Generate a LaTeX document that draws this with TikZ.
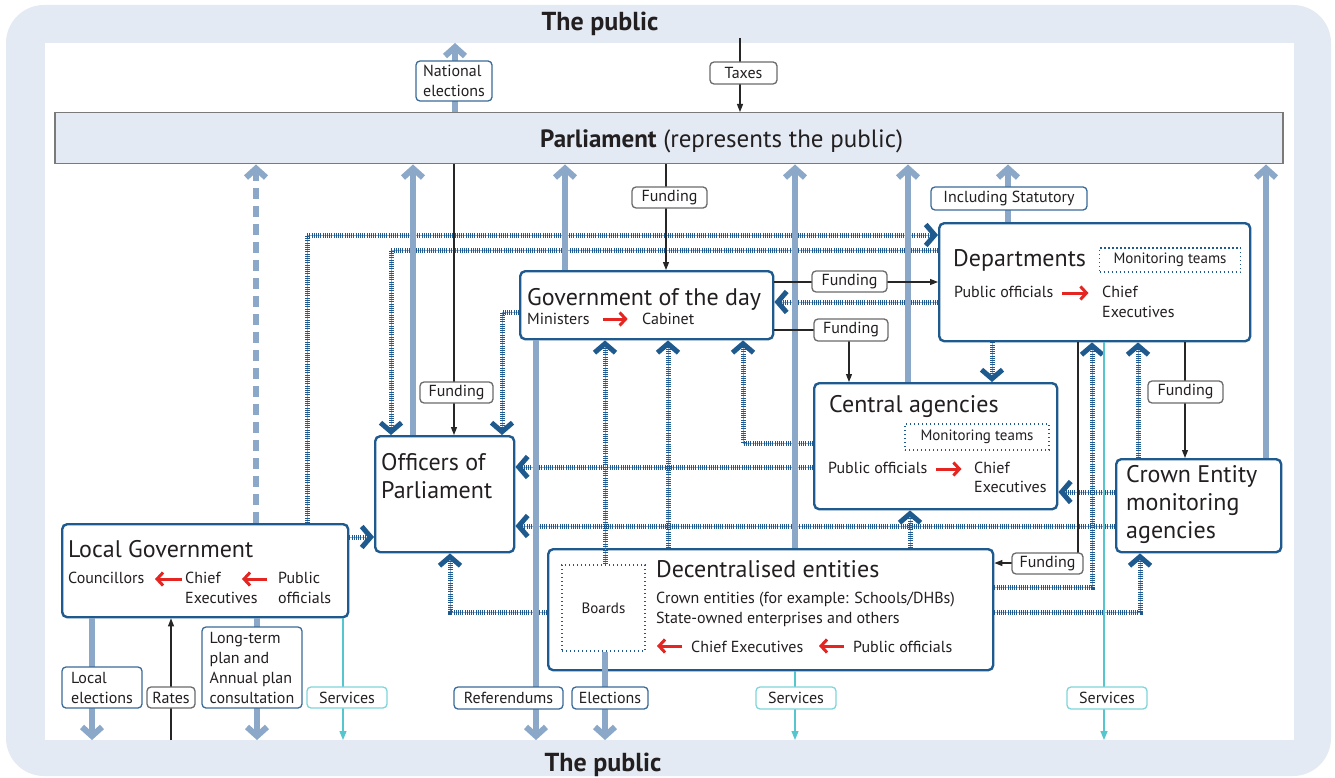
\documentclass[tikz,border=0pt]{standalone}
\usepackage{fontspec}
\setmainfont{PT Sans}
\usetikzlibrary{arrows.meta}

\definecolor{bgblue}{HTML}{E3EAF3}
\definecolor{thickblue}{HTML}{8CA8C8}
\definecolor{navy}{HTML}{1F5A8F}
\definecolor{hatchlight}{HTML}{93AECD}
\definecolor{inkc}{HTML}{231F20}
\definecolor{cyanline}{HTML}{55C6CE}
\definecolor{cyanbox}{HTML}{7FD5DB}
\definecolor{redarrow}{HTML}{E42521}
\definecolor{lblgray}{HTML}{6B6B6B}
\definecolor{lblnavy}{HTML}{3A6A98}
\definecolor{parlgray}{HTML}{7A7A7A}

\newcommand\fntPub{\fontsize{26}{30}\selectfont\bfseries}
\newcommand\fntParl{\fontsize{25}{30}\selectfont}
\newcommand\fntTitle{\fontsize{24}{28}\selectfont}
\newcommand\fntSub{\fontsize{16}{20}\selectfont}
\newcommand\fntLbl{\fontsize{16}{20}\selectfont}
\newcommand\fntMon{\fontsize{15}{18}\selectfont}

\begin{document}
\begin{tikzpicture}[x=1pt, y=-1pt,
  txt/.style={inner sep=0pt, text=inkc},
  ttl/.style={txt, font=\fntTitle, anchor=base west},
  sub/.style={txt, font=\fntSub, anchor=base west},
  mainbox/.style={draw=navy, line width=2.4pt, rounded corners=5pt, fill=white, inner sep=0pt, anchor=north west},
  monbox/.style={draw=navy, line width=1.4pt, dash pattern=on 1.4pt off 2.6pt, inner sep=0pt, text=inkc, font=\fntMon},
  lbl/.style={draw=#1, rounded corners=4pt, line width=1.3pt, fill=white, inner sep=0pt, text=inkc, font=\fntLbl, align=left},
  thickarr/.style={draw=thickblue, line width=6pt, -{Straight Barb[length=9pt, width=20pt]}},
  dasharr/.style={thickarr, dash pattern=on 11pt off 7pt},
  hatch/.style={draw=navy, line width=5pt, dash pattern=on 1pt off 1.2pt,
     preaction={draw=hatchlight, solid},
     -{Straight Barb[length=9pt, width=21pt]}},
  thinarr/.style={draw=black!85, line width=1.1pt, -{Triangle[length=8pt, width=6pt]}},
  cyanarr/.style={draw=cyanline, line width=1.3pt, -{Triangle[length=9pt, width=7pt]}},
  redarr/.style={draw=redarrow, line width=3pt, -{Straight Barb[length=6pt, width=13pt]}},
]
% frame
\useasboundingbox (0,0) rectangle (1335,778);
\fill[bgblue, rounded corners=38pt] (6,5) rectangle (1331,776);
\fill[white] (45,43) rectangle (1294,740);

\node[txt, font=\fntPub, anchor=base] (pubtop) at (600,31) {The public};
\node[txt, font=\fntPub, anchor=base] (pubbot) at (603,771) {The public};

% free ends on the public side
\coordinate (natE) at (455,43);
\coordinate (taxS) at (740,38);
\coordinate (locE) at (92,740);
\coordinate (rateS) at (171,740);
\coordinate (planE) at (257,740);
\coordinate (svcA) at (343,740);
\coordinate (refE) at (536,740);
\coordinate (elecE) at (605,740);
\coordinate (svcB) at (795,740);
\coordinate (svcC) at (1104,740);

% Parliament
\node[draw=parlgray, line width=1.5pt, fill=bgblue, inner sep=0pt, anchor=north west,
      minimum width=1228pt, minimum height=51pt] (parl) at (54,112) {};
\node[txt, font=\fntParl, anchor=base west] (parltext) at (540,148) {\textbf{Parliament} (represents the public)};

% organisations
\node[mainbox, minimum width=253pt, minimum height=68pt] (gov) at (519,270) {};
\node[mainbox, minimum width=311pt, minimum height=118pt] (dep) at (938,222) {};
\node[mainbox, minimum width=243pt, minimum height=126pt] (cen) at (813,382) {};
\node[mainbox, minimum width=139pt, minimum height=116pt] (off) at (374,435) {};
\node[mainbox, minimum width=165pt, minimum height=93pt] (crown) at (1115,458) {};
\node[mainbox, minimum width=286pt, minimum height=93pt] (lg) at (61,523) {};
\node[mainbox, minimum width=445pt, minimum height=121pt] (dec) at (547,548) {};
\node[monbox, minimum width=83pt, minimum height=86pt] (boards) at (603.5,608) {Boards};

% monitoring relationships
\draw[hatch] (lg.north -| 307,0) |- (dep.west |- 0,235);
\draw[hatch] (dep.west |- 0,250) -| (off.north -| 391,0);
\draw[hatch] (gov.west |- 0,312) -| (off.north -| 502,0);
\draw[hatch] (dep.west |- 0,302) -- (gov.east |- 0,302);
\draw[hatch] (dep.south -| 992,0) -- (cen.north -| 992,0);
\draw[hatch] (cen.west |- 0,443) -| (gov.south -| 743,0);
\draw[hatch] (cen.west |- 0,467) -- (off.east |- 0,467);
\draw[hatch] (crown.west |- 0,492) -- (cen.east |- 0,492);
\draw[hatch] (crown.west |- 0,526) -- (off.east |- 0,526);
\draw[hatch] (boards.north -| 605,0) -- (gov.south -| 605,0);
\draw[hatch] (dec.north -| 668,0) -- (gov.south -| 668,0);
\draw[hatch] (dec.west |- 0,612) -| (off.south -| 450,0);
\draw[hatch] (dec.north -| 910,0) -- (cen.south -| 910,0);
\draw[hatch] (dec.east |- 0,587) -| (dep.south -| 1092,0);
\draw[hatch] (dec.east |- 0,612) -| (crown.south -| 1140,0);
\draw[hatch] (crown.north -| 1138,0) -- (dep.south -| 1138,0);
\draw[hatch] (lg.east |- 0,537) -- (off.west |- 0,537);

% accountability to Parliament and the public
\draw[thickarr] (parl.north -| 455,0) -- (natE);
\draw[dasharr] (lg.north -| 256,0) -- (parl.south -| 256,0);
\draw[thickarr] (off.north -| 413,0) -- (parl.south -| 413,0);
\draw[thickarr] (gov.north -| 565,0) -- (parl.south -| 565,0);
\draw[thickarr] (dec.north -| 795,0) -- (parl.south -| 795,0);
\draw[thickarr] (cen.north -| 908,0) -- (parl.south -| 908,0);
\draw[thickarr] (dep.north -| 1008,0) -- (parl.south -| 1008,0);
\draw[thickarr] (crown.north -| 1266,0) -- (parl.south -| 1266,0);
\draw[thickarr] (lg.south -| 92,0) -- (locE);
\draw[thickarr] (lg.south -| 257,0) -- (planE);
\draw[thickarr] (gov.south -| 536,0) -- (refE);
\draw[thickarr] (boards.south -| 605,0) -- (elecE);

% funding
\draw[thinarr] (taxS) -- (parl.north -| 740,0);
\draw[thinarr] (parl.south -| 454,0) -- (off.north -| 454,0);
\draw[thinarr] (parl.south -| 666,0) -- (gov.north -| 666,0);
\draw[thinarr] (gov.east |- 0,282) -- (dep.west |- 0,282);
\draw[thinarr] (gov.east |- 0,330) -| (cen.north -| 849,0);
\draw[thinarr] (dep.south -| 1185,0) -- (crown.north -| 1185,0);
\draw[thinarr] (dep.south -| 1078,0) |- (dec.east |- 0,563);
\draw[thinarr] (rateS) -- (lg.south -| 171,0);

% services
\draw[cyanarr] (lg.south -| 343,0) -- (svcA);
\draw[cyanarr] (dec.south -| 795,0) -- (svcB);
\draw[cyanarr] (dep.south -| 1104,0) -- (svcC);

% Government of the day
\node[ttl] (govT) at (527,305) {Government of the day};
\node[sub] (govMin) at (527,324) {Ministers};
\node[sub] (govCab) at (642,324) {Cabinet};
\draw[redarr] ([shift={(13,-5)}]govMin.base east) -- ++(25,0);

% Departments
\node[ttl] (depT) at (953,266) {Departments};
\node[monbox, minimum width=141pt, minimum height=24pt] (depMon) at (1170,260) {Monitoring teams};
\node[sub] (depPO) at (954,297) {Public officials};
\node[sub] (depC) at (1102,297) {Chief};
\node[sub] (depE) at (1102,317) {Executives};
\draw[redarr] ([shift={(9,-4)}]depPO.base east) -- ++(26,0);

% Central agencies
\node[ttl] (cenT) at (829,412) {Central agencies};
\node[monbox, minimum width=144pt, minimum height=26pt] (cenMon) at (977,437) {Monitoring teams};
\node[sub] (cenPO) at (828,473) {Public officials};
\node[sub] (cenC) at (974,473) {Chief};
\node[sub] (cenE) at (974,492) {Executives};
\draw[redarr] ([shift={(9,-4)}]cenPO.base east) -- ++(25,0);

% Officers of Parliament
\node[ttl] (offA) at (381,470) {Officers of};
\node[ttl] (offB) at (381,498) {Parliament};

% Crown Entity monitoring agencies
\node[ttl] (crA) at (1126,482) {Crown Entity};
\node[ttl] (crB) at (1126,510) {monitoring};
\node[ttl] (crC) at (1126,538) {agencies};

% Local Government
\node[ttl] (lgT) at (68,557) {Local Government};
\node[sub] (lgCo) at (68,583) {Councillors};
\node[sub] (lgC) at (185,583) {Chief};
\node[sub] (lgE) at (185,603) {Executives};
\node[sub] (lgP) at (278,583) {Public};
\node[sub] (lgO) at (278,603) {officials};
\draw[redarr] ([shift={(-3,-4)}]lgC.base west) -- ++(-27,0);
\draw[redarr] ([shift={(-11,-4)}]lgP.base west) -- ++(-25,0);

% Decentralised entities
\node[ttl] (decT) at (656,577) {Decentralised entities};
\node[sub] (decL1) at (656,603) {Crown entities (for example: Schools/DHBs)};
\node[sub] (decL2) at (656,623) {State-owned enterprises and others};
\node[sub] (decCE) at (691,652) {Chief Executives};
\node[sub] (decPO) at (853,652) {Public officials};
\draw[redarr] ([shift={(-9,-6)}]decCE.base west) -- ++(-25,0);
\draw[redarr] ([shift={(-9,-6)}]decPO.base west) -- ++(-25,0);

% connector labels
\node[lbl=lblnavy, minimum width=76pt, minimum height=40pt] (lNat) at (454,81) {National\\elections};
\node[lbl=lblgray, minimum width=67pt, minimum height=22pt] (lTax) at (743.5,73) {Taxes};
\node[lbl=lblgray, minimum width=75pt, minimum height=21pt] (lFund1) at (669.5,197.5) {Funding};
\node[lbl=lblnavy, minimum width=156pt, minimum height=23pt] (lStat) at (1009,198.5) {Including Statutory};
\node[lbl=lblgray, minimum width=75pt, minimum height=21pt] (lFund2) at (849.5,281.5) {Funding};
\node[lbl=lblgray, minimum width=74pt, minimum height=22pt] (lFund3) at (851,330) {Funding};
\node[lbl=lblgray, minimum width=73pt, minimum height=21pt] (lFund4) at (456.5,392.5) {Funding};
\node[lbl=lblgray, minimum width=75pt, minimum height=22pt] (lFund5) at (1185.5,392) {Funding};
\node[lbl=lblgray, minimum width=71pt, minimum height=21pt] (lFund6) at (1047.5,563.5) {Funding};
\node[lbl=lblnavy, minimum width=80pt, minimum height=41pt] (lLoc) at (102,687.5) {Local\\elections};
\node[lbl=lblgray, minimum width=48pt, minimum height=21pt] (lRates) at (171,697.5) {Rates};
\node[lbl=lblnavy, minimum width=100pt, minimum height=81pt] (lPlan) at (252,667.5) {Long-term\\plan and\\Annual plan\\consultation};
\node[lbl=cyanbox, minimum width=80pt, minimum height=21pt] (lSvc1) at (347,697.5) {Services};
\node[lbl=lblnavy, minimum width=109pt, minimum height=22pt] (lRef) at (508.5,698) {Referendums};
\node[lbl=lblnavy, minimum width=76pt, minimum height=22pt] (lElec) at (610,698) {Elections};
\node[lbl=cyanbox, minimum width=80pt, minimum height=22pt] (lSvc2) at (796,698) {Services};
\node[lbl=cyanbox, minimum width=80pt, minimum height=22pt] (lSvc3) at (1107,698) {Services};
\end{tikzpicture}
\end{document}
